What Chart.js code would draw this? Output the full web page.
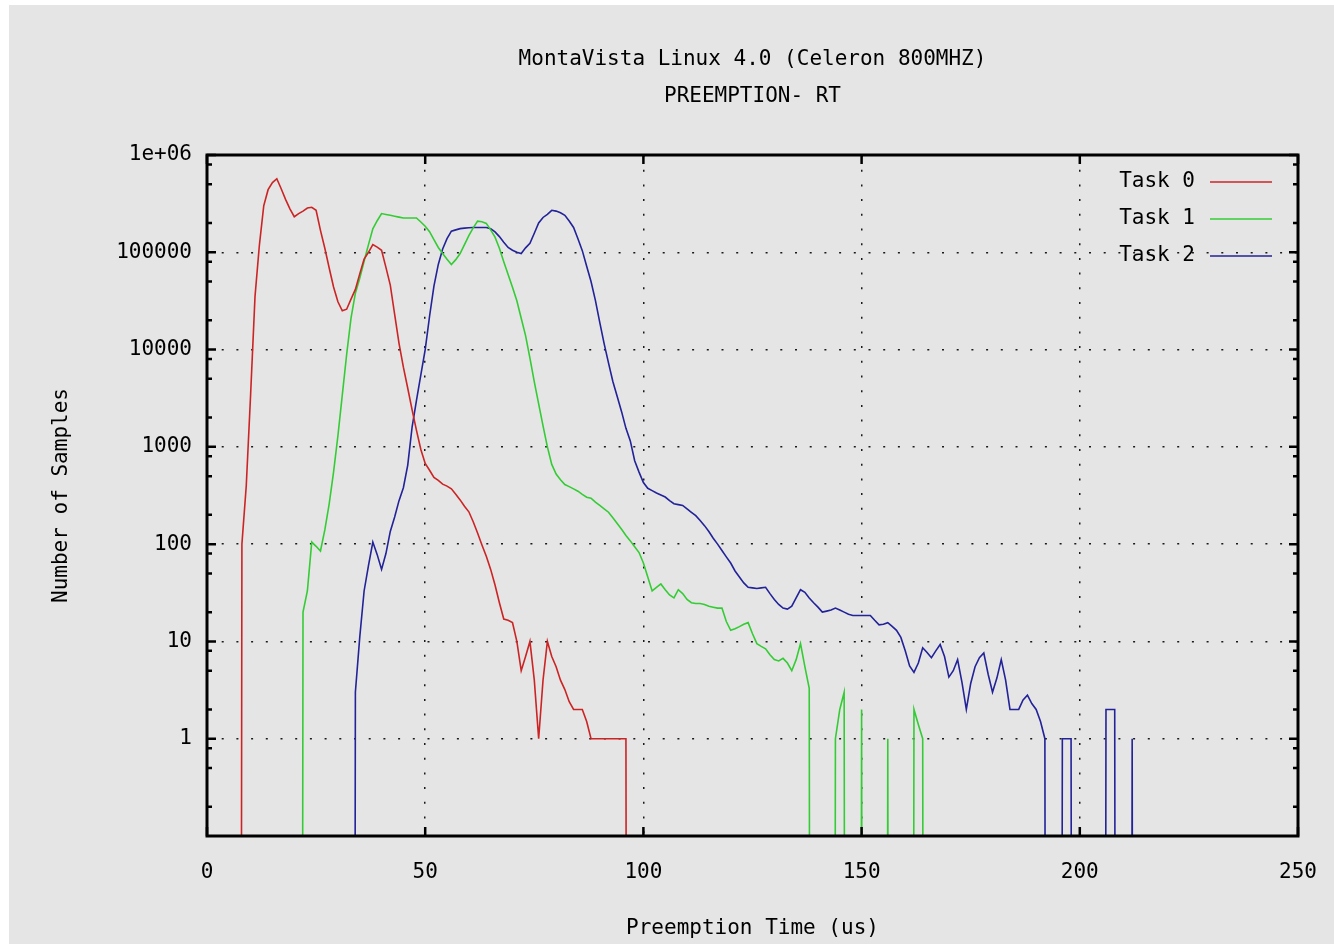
<!DOCTYPE html>
<html>
<head>
<meta charset="utf-8">
<script src="https://cdn.jsdelivr.net/npm/chart.js@4.4.1/dist/chart.umd.min.js"></script>
<style>
  html, body { margin: 0; padding: 0; background: #fff; }
  canvas { display: block; }
</style>
</head>
<body>
<canvas id="plot" width="1334" height="944"></canvas>
<script>
// titles and axis text
const TITLE_LINES = ['MontaVista Linux 4.0 (Celeron 800MHZ)', 'PREEMPTION- RT'];
const X_TITLE = 'Preemption Time (us)';
const Y_TITLE = 'Number of Samples';

// axes
const X_TICKS = [0, 50, 100, 150, 200, 250];
const X_TICK_LABELS = ['0', '50', '100', '150', '200', '250'];
const Y_TICKS = [1, 10, 100, 1000, 10000, 100000, 1000000];
const Y_TICK_LABELS = ['1', '10', '100', '1000', '10000', '100000', '1e+06'];
const Y_MINOR = [2, 5, 8];
const Y_MIN = 0.1;
const Y_MAX = 1000000;

// histogram counts, one per microsecond, starting at the given x
const TASK0_START = 7;
const TASK0 = [
  0, 100, 400, 3500, 35000, 118000, 300000, 440000, 520000, 570000,          // 7-16
  450000, 350000, 280000, 232000, 250000, 265000, 285000, 290000, 270000, 168000, // 17-26
  110000, 69000, 44000, 31000, 25000, 26000, 33000, 41500, 60000, 85000,     // 27-36
  100000, 120000, 113000, 105000, 70000, 46000, 23000, 11600, 6600, 4000,    // 37-46
  2400, 1480, 940, 675, 575, 485, 452, 414, 395, 370,                        // 47-56
  325, 285, 245, 215, 170, 130, 98, 75, 55, 38,                              // 57-66
  25, 17, 16.5, 15.6, 10, 5, 7, 10, 4, 1,                                    // 67-76
  4, 10, 7, 5.5, 4, 3.2, 2.4, 2, 2, 2,                                       // 77-86
  1.5, 1, 1, 1, 1, 1, 1, 1, 1, 1,                                            // 87-96
  0                                                                          // 97
];

const TASK1_START = 21;
const TASK1 = [
  0, 20, 33, 105, 95, 85, 140, 260, 550, 1300,                               // 21-30
  3400, 8900, 21000, 38000, 54000, 81000, 120000, 174000, 211000, 250000,    // 31-40
  245000, 240000, 235000, 230000, 225000, 225000, 225000, 225000, 205000, 185000, // 41-50
  163000, 135000, 112000, 97000, 85000, 75000, 84000, 97000, 120000, 148000, // 51-60
  178000, 209000, 206000, 198000, 170000, 143000, 110000, 80000, 59000, 43700, // 61-70
  31800, 21000, 13900, 8150, 4650, 2770, 1640, 1000, 660, 525,               // 71-80
  460, 410, 390, 370, 350, 325, 304, 297, 270, 250,                          // 81-90
  231, 213, 187, 163, 142, 123, 108, 94, 82, 64,                             // 91-100
  46, 33, 36, 39, 34, 30, 28, 34, 31, 27,                                    // 101-110
  25, 24.5, 24.5, 24, 23, 22.5, 22, 22, 16, 13,                              // 111-120
  13.5, 14.2, 15, 15.6, 12, 9.5, 8.9, 8.4, 7.3, 6.5,                         // 121-130
  6.3, 6.7, 6, 5, 6.5, 9.5, 5.5, 3.3, 0, 0,                                  // 131-140
  0, 0, 0, 1, 2, 3, 0, 0, 0, 2,                                              // 141-150
  0, 0, 0, 0, 0, 1, 0, 0, 0, 0,                                              // 151-160
  0, 2, 1.4, 1, 0                                                            // 161-165
];

const TASK2_START = 33;
const TASK2 = [
  0, 3, 11, 33, 60, 105, 78, 55, 80, 135,                                    // 33-42
  190, 280, 380, 650, 1600, 3000, 5500, 10000, 22000, 45000,                 // 43-52
  75000, 108000, 138000, 165000, 170000, 175000, 177000, 179000, 180000, 180000, // 53-62
  180000, 180000, 175000, 162000, 145000, 127000, 112000, 105000, 100000, 97000, // 63-72
  111000, 124000, 157000, 200000, 228000, 245000, 270000, 265000, 255000, 240000, // 73-82
  210000, 180000, 138000, 104000, 72000, 50000, 32000, 19000, 11500, 7300,   // 83-92
  4700, 3300, 2300, 1550, 1150, 720, 550, 430, 375, 355,                     // 93-102
  335, 320, 305, 280, 260, 255, 250, 230, 212, 196,                          // 103-112
  175, 155, 135, 115, 100, 86, 74, 64, 53, 46,                               // 113-122
  40, 36, 35.5, 35, 35.5, 36, 31, 27, 24, 22,                                // 123-132
  21.5, 23, 28, 34, 32, 28, 25, 22.5, 20, 20.5,                              // 133-142
  21, 22, 21, 20, 19, 18.5, 18.5, 18.5, 18.5, 18.5,                          // 143-152
  16.5, 14.8, 15, 15.6, 14.3, 13, 11, 8, 5.6, 4.8,                           // 153-162
  6, 8.6, 7.7, 6.8, 8, 9.3, 7, 4.3, 5, 6.5,                                  // 163-172
  3.8, 2, 3.7, 5.5, 6.8, 7.6, 4.6, 3, 4.2, 6.5,                              // 173-182
  4, 2, 2, 2, 2.5, 2.8, 2.3, 2, 1.5, 1,                                      // 183-192
  0, 0, 0, 1, 1, 1, 0, 0, 0, 0,                                              // 193-202
  0, 0, 0, 2, 2, 2, 0, 0, 0, 1,                                              // 203-212
  0                                                                          // 213
];

const SERIES_NAMES = ['Task 0', 'Task 1', 'Task 2'];
const SERIES_COLORS = ['#cc2424', '#34cc34', '#222299'];

// a zero count has no log value: like gnuplot, send it far below the axis
// so the segment drops (almost) vertically and is clipped at the frame
const ZERO_DRAW = 1e-30;

function toPoints(start, counts) {
  return counts.map((v, i) => ({ x: start + i, y: v === 0 ? ZERO_DRAW : v }));
}

const FONT = "'DejaVu Sans Mono', monospace";

const bgPlugin = {
  id: 'bg',
  beforeDraw(chart) {
    const ctx = chart.ctx;
    ctx.save();
    ctx.fillStyle = '#ffffff';
    ctx.fillRect(0, 0, chart.width, chart.height);
    ctx.fillStyle = '#e5e5e5';
    ctx.fillRect(9, 5, chart.width - 9, chart.height - 5);
    ctx.restore();
  }
};

// gnuplot style box: thick frame, inward ticks on all sides, key at top right
const framePlugin = {
  id: 'frame',
  afterDatasetsDraw(chart) {
    const { ctx, chartArea: a, scales: { x, y } } = chart;
    ctx.save();
    ctx.strokeStyle = '#000';
    ctx.lineWidth = 2.5;
    ctx.beginPath();
    Y_TICKS.forEach(v => {
      const py = y.getPixelForValue(v);
      ctx.moveTo(a.left, py); ctx.lineTo(a.left + 9, py);
      ctx.moveTo(a.right, py); ctx.lineTo(a.right - 9, py);
    });
    for (let k = -1; k < 6; k++) {
      Y_MINOR.forEach(m => {
        const py = y.getPixelForValue(m * Math.pow(10, k));
        ctx.moveTo(a.left, py); ctx.lineTo(a.left + 5, py);
        ctx.moveTo(a.right, py); ctx.lineTo(a.right - 5, py);
      });
    }
    X_TICKS.forEach(v => {
      const px = x.getPixelForValue(v);
      ctx.moveTo(px, a.bottom); ctx.lineTo(px, a.bottom - 9);
      ctx.moveTo(px, a.top); ctx.lineTo(px, a.top + 9);
    });
    ctx.stroke();
    ctx.lineWidth = 3;
    ctx.strokeRect(a.left, a.top, a.right - a.left, a.bottom - a.top);

    // key
    ctx.font = '21px ' + FONT;
    ctx.textAlign = 'right';
    ctx.textBaseline = 'middle';
    chart.data.datasets.forEach((ds, i) => {
      const py = a.top + 27 + i * 37;
      ctx.fillStyle = '#000';
      ctx.fillText(ds.label, a.right - 103, py);
      ctx.strokeStyle = ds.borderColor;
      ctx.lineWidth = 1.6;
      ctx.beginPath();
      ctx.moveTo(a.right - 88, py);
      ctx.lineTo(a.right - 26, py);
      ctx.stroke();
    });
    ctx.restore();
  }
};

Chart.defaults.font.family = FONT;
Chart.defaults.font.size = 21;
Chart.defaults.color = '#000';

const grid = { color: '#1a1a1a', lineWidth: 1.5, drawTicks: false };
const border = { display: false, dash: [2, 12.7] };

new Chart(document.getElementById('plot'), {
  type: 'line',
  data: {
    datasets: [
      { label: SERIES_NAMES[0], data: toPoints(TASK0_START, TASK0), borderColor: SERIES_COLORS[0] },
      { label: SERIES_NAMES[1], data: toPoints(TASK1_START, TASK1), borderColor: SERIES_COLORS[1] },
      { label: SERIES_NAMES[2], data: toPoints(TASK2_START, TASK2), borderColor: SERIES_COLORS[2] }
    ].map(d => Object.assign(d, { borderWidth: 1.6, pointRadius: 0, tension: 0, fill: false }))
  },
  options: {
    responsive: false,
    animation: false,
    events: [],
    layout: { padding: { left: 0, right: 36, top: 0, bottom: 0 } },
    plugins: {
      legend: { display: false },
      tooltip: { enabled: false },
      title: {
        display: true,
        text: TITLE_LINES,
        fullSize: false,
        color: '#000',
        font: { size: 21, weight: 'normal', lineHeight: 37 / 21 },
        padding: { top: 41.5, bottom: 39.5 }
      }
    },
    scales: {
      x: {
        type: 'linear',
        min: 0,
        max: 250,
        afterBuildTicks: s => { s.ticks = X_TICKS.map(v => ({ value: v })); },
        afterFit: s => { s.height = 108; s.paddingLeft = 0; s.paddingRight = 0; },
        ticks: { callback: (v, i) => X_TICK_LABELS[i], padding: 24, maxRotation: 0, autoSkip: false },
        grid: grid,
        border: border,
        title: { display: true, text: X_TITLE, padding: { top: 0, bottom: 3 } }
      },
      y: {
        type: 'logarithmic',
        min: Y_MIN,
        max: Y_MAX,
        afterBuildTicks: s => { s.ticks = Y_TICKS.map(v => ({ value: v })); },
        afterFit: s => { s.width = 207; },
        ticks: { callback: (v, i) => Y_TICK_LABELS[i], padding: 15, autoSkip: false },
        grid: grid,
        border: border,
        title: { display: true, text: Y_TITLE, padding: { top: 49, bottom: 0 } }
      }
    }
  },
  plugins: [bgPlugin, framePlugin]
});
</script>
</body>
</html>
